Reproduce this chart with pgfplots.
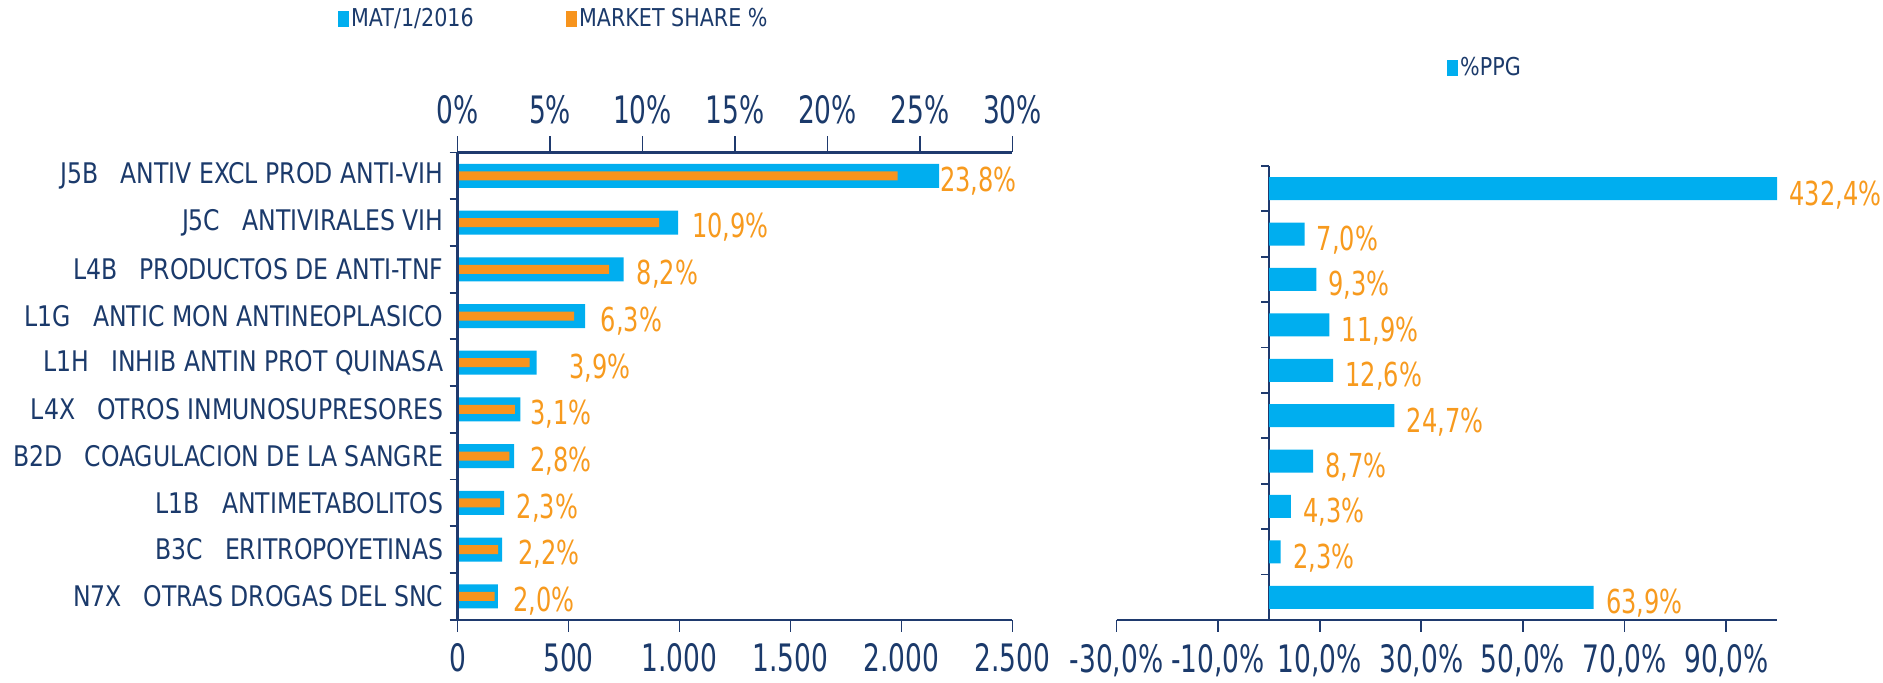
\documentclass[border=0pt]{standalone}
\usepackage{fontspec}
\setmainfont{DejaVu Sans}[FakeStretch=0.83]
\newfontfamily\tickfont{DejaVu Sans}[FakeStretch=0.70]
\newfontfamily\labfont{DejaVu Sans}[FakeStretch=0.73]
\newfontfamily\legfont{DejaVu Sans}[FakeStretch=0.84]
\usepackage{pgfplots}
\usepackage{pgfplotstable}
\pgfplotsset{compat=1.18}
\definecolor{navy}{HTML}{1B3A6B}
\definecolor{axisnavy}{HTML}{1F3A6E}
\definecolor{cyanbar}{HTML}{00AEEF}
\definecolor{orangebar}{HTML}{F7941D}
\definecolor{orangelab}{HTML}{F79A1E}

% idx 9 = top category (J5B), 0 = bottom (N7X)
\pgfplotstableread{
idx mat share lx
9 2170 23.8 2172
8 994 10.9 1055
7 748 8.2 806
6 575 6.3 644
5 356 3.9 503
4 283 3.1 325
3 255 2.8 325
2 210 2.3 265
1 201 2.2 271
0 182 2.0 249
}\lefttab

\pgfplotstableread{
idx ppg lx
9 432.4 100
8 7.0 7.0
7 9.3 9.3
6 11.9 11.9
5 12.6 12.6
4 24.7 24.7
3 8.7 8.7
2 4.3 4.3
1 2.3 2.3
0 63.9 63.9
}\righttab

\pgfplotsset{
  base/.style={scale only axis, anchor=south west, enlargelimits=false,
    ymin=-0.5, ymax=9.5,
    axis line style={axisnavy, line width=1.1pt},
    tick style={axisnavy, line width=0.9pt},
    tick align=outside,
    /pgf/number format/assume math mode=true,
  },
  tickl/.style={font=\tickfont\fontsize{18.9}{18.9}\selectfont, text=navy},
  vlab/.style={nodes near coords={\pgfmathprintnumber[fixed,fixed zerofill,precision=1,use comma]{\pgfplotspointmeta}\%},
    nodes near coords style={anchor=west, inner sep=0pt, font=\labfont\fontsize{16.5}{16.5}\selectfont, text=orangelab}},
}

\begin{document}
\begin{tikzpicture}
\path[use as bounding box] (0,0) rectangle (941.5pt,341.5pt);

% ---------- LEFT: primary (MAT, bottom axis) ----------
\begin{axis}[base, at={(228.75pt,31.65pt)}, width=277.45pt, height=233.6pt,
  xmin=0, xmax=2500,
  axis x line*=bottom, axis y line*=left,
  major tick length=6pt,
  xtick={0,500,1000,1500,2000,2500},
  xticklabels={0,500,1.000,1.500,2.000,2.500},
  xticklabel style={tickl, yshift=-2.5pt},
  ytick={0,...,9},
  yticklabels={N7X\hspace{11pt}OTRAS DROGAS DEL SNC,
    B3C\hspace{11pt}ERITROPOYETINAS,
    L1B\hspace{11pt}ANTIMETABOLITOS,
    B2D\hspace{11pt}COAGULACION DE LA SANGRE,
    L4X\hspace{11pt}OTROS INMUNOSUPRESORES,
    L1H\hspace{11pt}INHIB ANTIN PROT QUINASA,
    L1G\hspace{11pt}ANTIC MON ANTINEOPLASICO,
    L4B\hspace{11pt}PRODUCTOS DE ANTI-TNF,
    J5C\hspace{11pt}ANTIVIRALES VIH,
    J5B\hspace{11pt}ANTIV EXCL PROD ANTI-VIH},
  ytick style={draw=none},
  yticklabel style={font=\fontsize{14.2}{14.2}\selectfont, text=navy, xshift=2.5pt},
  legend image code/.code={\fill[#1, draw=none] (0pt,-3.9pt) rectangle (5.3pt,3.9pt);},
  legend columns=2,
  legend style={at={(axis description cs:-0.216,1.286)}, anchor=west, draw=none, fill=none,
    inner sep=0pt, font=\legfont\fontsize{12.3}{12.3}\selectfont, text=navy,
    nodes={inner sep=1.2pt},
    /tikz/every even column/.append style={column sep=45pt}},
]
\addplot[xbar, bar width=12pt, fill=cyanbar, draw=none, forget plot] table[x=mat, y=idx]{\lefttab};
\addlegendimage{fill=cyanbar, draw=none}
\addlegendentry{MAT/1/2016}
\addlegendimage{fill=orangebar, draw=none}
\addlegendentry{MARKET SHARE \%}
\end{axis}

% ---------- LEFT: secondary (market share, top axis) ----------
\begin{axis}[base, at={(228.75pt,31.65pt)}, width=277.45pt, height=233.6pt,
  xmin=0, xmax=30,
  axis x line*=top, axis y line=none,
  major tick length=8pt,
  xtick={0,5,...,30},
  xticklabels={0\%,5\%,10\%,15\%,20\%,25\%,30\%},
  xticklabel style={tickl, yshift=2.5pt},
]
\addplot[xbar, bar width=4.5pt, fill=orangebar, draw=none] table[x=share, y=idx]{\lefttab};
\end{axis}

% ---------- LEFT: category boundary ticks + value labels ----------
\begin{axis}[base, at={(228.75pt,31.65pt)}, width=277.45pt, height=233.6pt,
  xmin=0, xmax=2500, clip=false,
  axis x line=none, axis y line*=left,
  major tick length=4pt,
  ytick={-0.5,0.5,...,9.5}, yticklabels={},
]
\addplot[draw=none, mark=none, vlab, nodes near coords style={yshift=-2.5pt}, point meta=explicit]
  table[x=lx, y=idx, meta=share]{\lefttab};
\end{axis}

% ---------- RIGHT: x axis (-30% .. 100%) ----------
\begin{axis}[base, at={(558.25pt,31.5pt)}, width=330.25pt, height=227pt,
  xmin=-30, xmax=100,
  axis x line*=bottom, axis y line=none,
  major tick length=6pt,
  xtick={-30,-10,10,30,50,70,90},
  xticklabels={{-30,0\%},{-10,0\%},{10,0\%},{30,0\%},{50,0\%},{70,0\%},{90,0\%}},
  xticklabel style={tickl, yshift=-2.5pt},
]
\end{axis}

% ---------- RIGHT: bars from x=0 ----------
\begin{axis}[base, at={(634.5pt,31.5pt)}, width=254pt, height=227pt,
  xmin=0, xmax=100,
  axis x line=none, axis y line*=left,
  major tick length=4pt,
  ytick={-0.5,0.5,...,9.5}, yticklabels={},
  legend image code/.code={\fill[#1, draw=none] (0pt,-3.9pt) rectangle (5.3pt,3.9pt);},
  legend style={at={(axis description cs:0.350,1.216)}, anchor=west, draw=none, fill=none,
    inner sep=0pt, font=\legfont\fontsize{12.3}{12.3}\selectfont, text=navy,
    nodes={inner sep=1.2pt}},
]
\addplot[xbar, bar width=11.5pt, fill=cyanbar, draw=none, forget plot] table[x=ppg, y=idx]{\righttab};
\addlegendimage{fill=cyanbar, draw=none}
\addlegendentry{\%PPG}
\end{axis}

% ---------- RIGHT: value labels ----------
\begin{axis}[base, at={(634.5pt,31.5pt)}, width=254pt, height=227pt,
  xmin=0, xmax=100, clip=false,
  axis x line=none, axis y line=none,
]
\addplot[draw=none, mark=none, vlab, nodes near coords style={xshift=6pt, yshift=-3pt}, point meta=explicit]
  table[x=lx, y=idx, meta=ppg]{\righttab};
\end{axis}
\end{tikzpicture}
\end{document}
